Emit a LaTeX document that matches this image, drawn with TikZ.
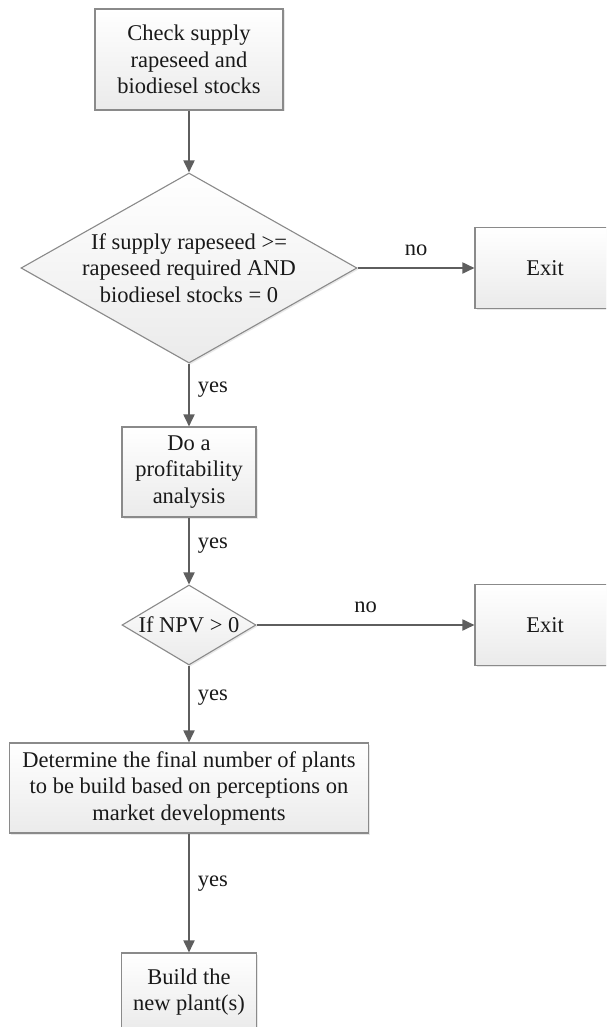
\documentclass[tikz,border=0pt]{standalone}
\usepackage{fontspec}
\setmainfont{Liberation Serif}
\usetikzlibrary{arrows.meta,shapes.geometric,shadows}
\definecolor{linegray}{HTML}{5E5E5E}
\definecolor{boxgray}{HTML}{8A8A8A}

\tikzset{
  base/.style={draw=boxgray, line width=1.1pt, top color=white, bottom color=black!8,
    align=center, text=black!90, font=\fontsize{22.5}{26.5}\selectfont,
    drop shadow={shadow xshift=1.5pt, shadow yshift=-1.5pt, fill=black!15, opacity=0.6}},
  box/.style={base, rectangle, inner sep=0pt},
  decision/.style={base, diamond, inner sep=0pt},
  flow/.style={->, draw=linegray, line width=1.8pt},
  lbl/.style={font=\fontsize{22.5}{26.5}\selectfont, text=black!90, inner sep=0pt},
}

\begin{document}
\begin{tikzpicture}[x=1pt, y=-1pt, >={Triangle[length=12pt,width=11pt]}]
\clip (0,0) rectangle (606,1027);
\fill [white] (0,0) rectangle (606,1027);

% main column
\node [box, minimum width=188pt, minimum height=101pt] (check) at (189,59.5)
  {Check supply\\rapeseed and\\biodiesel stocks};
\node [decision, aspect=1.77, minimum width=336pt, minimum height=190pt] (supply) at (189,268)
  {If supply rapeseed >=\\rapeseed required AND\\biodiesel stocks = 0};
\node [box, minimum width=134pt, minimum height=90pt] (profit) at (189,472)
  {Do a\\profitability\\analysis};
\node [decision, aspect=1.68, minimum width=134pt, minimum height=80pt] (npv) at (189,625)
  {If NPV > 0};
\node [box, minimum width=359pt, minimum height=90pt] (final) at (189,788)
  {Determine the final number of plants\\to be build based on perceptions on\\market developments};
\node [box, minimum width=135pt, minimum height=78pt] (build) at (189,992)
  {Build the\\new plant(s)};

% exits, cut by the right edge
\node [box, minimum width=140pt, minimum height=81pt] (exitA) at (545,268) {Exit};
\node [box, minimum width=140pt, minimum height=81pt] (exitB) at (545,625) {Exit};

\draw [flow] (check) -- (supply);
\draw [flow] (supply) -- node [lbl, midway, above=11pt] {no} (exitA);
\draw [flow] (supply) -- node [lbl, pos=0.42, right=8pt] {yes} (profit);
\draw [flow] (profit) -- node [lbl, pos=0.42, right=8pt] {yes} (npv);
\draw [flow] (npv) -- node [lbl, midway, above=11pt] {no} (exitB);
\draw [flow] (npv) -- node [lbl, pos=0.42, right=8pt] {yes} (final);
\draw [flow] (final) -- node [lbl, pos=0.42, right=8pt] {yes} (build);
\end{tikzpicture}
\end{document}
